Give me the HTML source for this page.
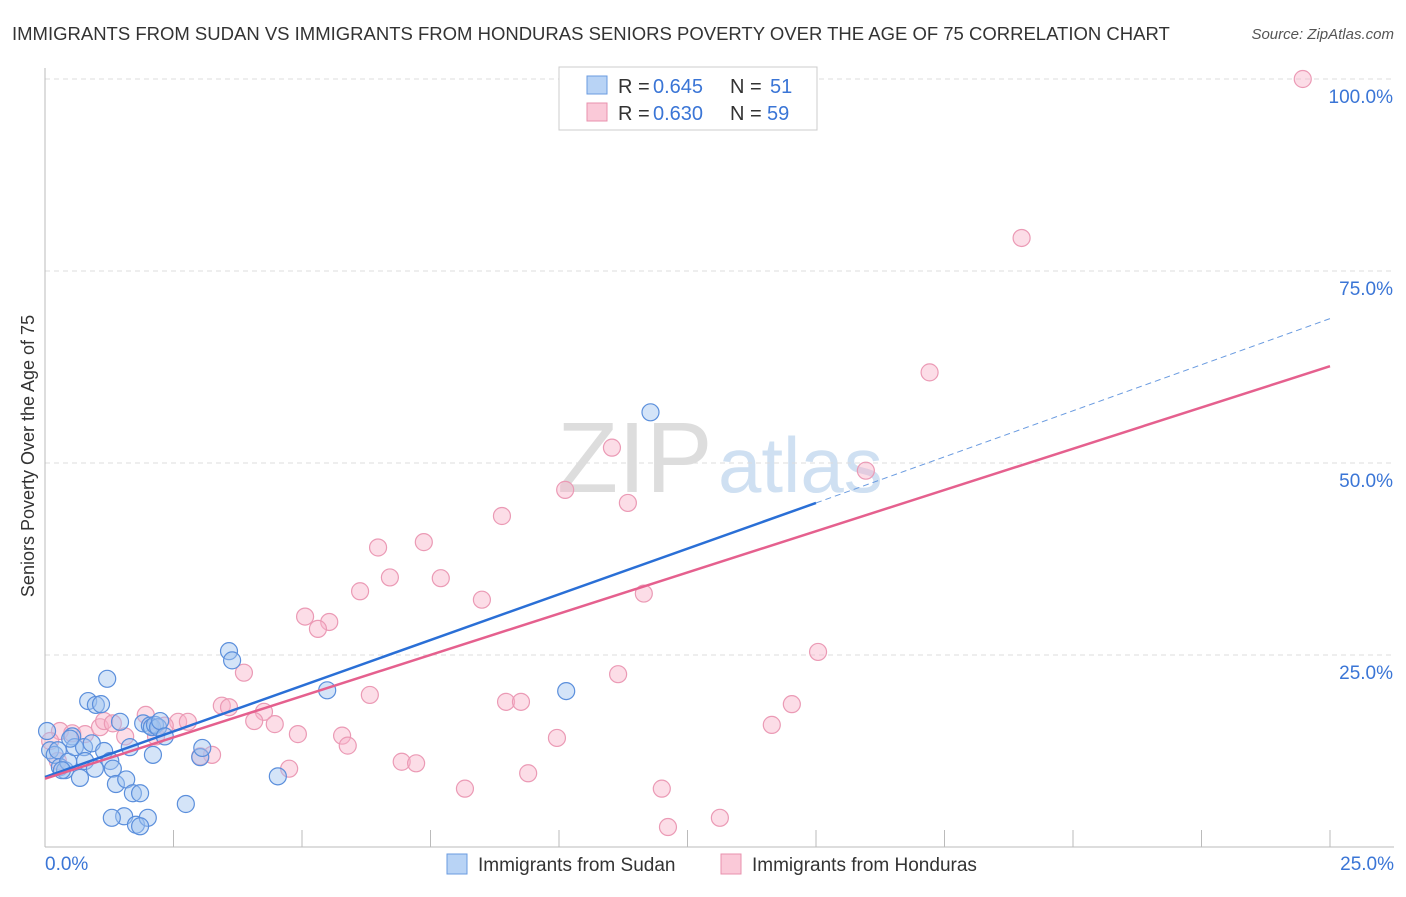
<!DOCTYPE html>
<html><head><meta charset="utf-8"><style>
body{margin:0;background:#fff;font-family:"Liberation Sans",sans-serif}
svg text{font-family:"Liberation Sans",sans-serif}
</style></head><body>
<svg width="1406" height="892" id="c">
<text x="12" y="40" font-size="18.5" fill="#333">IMMIGRANTS FROM SUDAN VS IMMIGRANTS FROM HONDURAS SENIORS POVERTY OVER THE AGE OF 75 CORRELATION CHART</text>
<text x="1394" y="39" font-size="15" fill="#555" font-style="italic" text-anchor="end">Source: ZipAtlas.com</text>
<text x="34" y="456" font-size="18" fill="#333" text-anchor="middle" transform="rotate(-90 34 456)">Seniors Poverty Over the Age of 75</text>
<text x="557" y="492" font-size="100" fill="#ddd" font-family="Liberation Serif">ZIP</text>
<text x="718" y="492" font-size="78" fill="#cfe0f2">atlas</text>
<g id="grid"></g><g id="pts"></g><g id="lines"></g>
<g>
<rect x="559" y="67" width="258" height="63" fill="#fff" stroke="#ccc"/>
<rect x="587" y="76" width="20" height="18" fill="#b8d3f5" stroke="#6a9be0"/>
<rect x="587" y="103" width="20" height="18" fill="#fac9d8" stroke="#e891ae"/>
<text x="618" y="93" font-size="20" fill="#333">R =</text><text x="653" y="93" font-size="20" fill="#3a75d6">0.645</text>
<text x="730" y="93" font-size="20" fill="#333">N =</text><text x="770" y="93" font-size="20" fill="#3a75d6">51</text>
<text x="618" y="120" font-size="20" fill="#333">R =</text><text x="653" y="120" font-size="20" fill="#3a75d6">0.630</text>
<text x="730" y="120" font-size="20" fill="#333">N =</text><text x="767" y="120" font-size="20" fill="#3a75d6">59</text>
</g>
<g>
<rect x="447" y="854" width="20" height="20" fill="#b8d3f5" stroke="#6a9be0"/>
<text x="478" y="871" font-size="19" fill="#333">Immigrants from Sudan</text>
<rect x="721" y="854" width="20" height="20" fill="#fac9d8" stroke="#e891ae"/>
<text x="752" y="871" font-size="19" fill="#333">Immigrants from Honduras</text>
</g>
</svg>
<script>
const xTicks=["0.0%","25.0%"];
const yTicks=[25,50,75,100];
const sudanX=[0.04,0.1,0.19,0.25,0.29,0.39,0.45,0.53,0.58,0.68,0.76,0.84,0.91,0.99,1.09,1.15,1.21,1.27,1.32,1.38,1.46,1.54,1.58,1.65,1.71,1.77,1.85,1.91,2.0,2.04,2.08,2.14,2.2,2.24,2.33,2.1,2.74,3.02,3.06,3.58,3.64,4.53,5.49,10.14,11.78,0.33,0.49,0.78,0.97,1.3,1.85];
const sudanY=[15.1,12.6,12.0,12.6,10.4,10.0,11.1,14.4,13.0,9.0,13.0,19.0,13.5,18.5,18.6,12.5,21.9,11.2,10.2,8.2,16.3,4.0,8.8,13.0,7.0,2.9,7.0,16.1,3.8,15.8,15.6,15.9,15.6,16.4,14.4,12.0,5.6,11.7,12.9,25.5,24.3,9.2,20.4,20.3,56.6,10.0,14.1,11.2,10.2,3.8,2.7];
const hondX=[24.47,19.0,17.21,15.97,11.03,10.12,11.34,8.89,7.37,6.48,6.71,7.7,6.13,8.5,5.06,5.53,5.31,11.65,3.87,15.04,11.15,6.32,8.97,9.26,14.53,3.44,3.58,4.26,1.96,4.47,4.07,4.92,5.78,5.89,2.59,2.78,9.96,14.14,3.25,3.02,4.75,6.94,7.22,9.4,8.17,12.0,12.12,13.13,0.29,0.53,0.78,1.07,1.15,1.32,1.56,2.16,2.33,0.1,0.25];
const hondY=[100,79.3,61.8,49.0,52.0,46.5,44.8,43.1,39.7,39.0,35.1,35.0,33.3,32.2,30.0,29.3,28.4,33.0,22.7,25.4,22.5,19.8,18.9,18.9,18.6,18.4,18.2,17.6,17.2,16.0,16.4,14.7,14.5,13.2,16.3,16.3,14.2,15.9,12.0,11.8,10.2,11.1,10.9,9.6,7.6,7.6,2.6,3.8,15.1,14.8,14.7,15.6,16.4,16.1,14.4,14.4,15.8,13.8,11.2];
const X=v=>45+v/25*1285, Y=v=>847-v*7.68;
const NS="http://www.w3.org/2000/svg";
function mk(t,a,p){const e=document.createElementNS(NS,t);for(const k in a)e.setAttribute(k,a[k]);p.appendChild(e);return e;}
const g=document.getElementById('grid');
yTicks.forEach(v=>{
 const l=mk('line',{x1:45,x2:1394,y1:Y(v),y2:Y(v),stroke:'#ddd','stroke-dasharray':'5,4'},g);
 
 
 const t=mk('text',{x:1393,y:Y(v)+24,'font-size':19,fill:'#3a75d6','text-anchor':'end'},g);
 t.textContent=v.toFixed(1)+'%';
 
 
});
mk('line',{x1:45,x2:45,y1:68,y2:847,stroke:'#bbb'},g);
mk('line',{x1:45,x2:1394,y1:847,y2:847,stroke:'#bbb'},g);
for(let i=0;i<=10;i++){mk('line',{x1:X(i*2.5),x2:X(i*2.5),y1:830,y2:847,stroke:'#bbb'},g);}
xTicks.forEach((s,i)=>{const t=mk('text',{x:i?1394:45,y:870,'font-size':19,fill:'#3a75d6','text-anchor':i?'end':'start'},g);t.textContent=s;
 
 });
const p=document.getElementById('pts');
hondX.forEach((x,i)=>{const c=mk('circle',{cx:X(x),cy:Y(hondY[i]),r:8.5,fill:'rgba(248,180,202,0.45)',stroke:'#eb9ab5','stroke-width':1.2},p);
 
 });
sudanX.forEach((x,i)=>{const c=mk('circle',{cx:X(x),cy:Y(sudanY[i]),r:8.5,fill:'rgba(160,195,240,0.45)',stroke:'#5b8fdc','stroke-width':1.2},p);
 
 });
const L=document.getElementById('lines');
let a=mk('line',{x1:X(0),y1:Y(9.1),x2:X(15),y2:Y(44.8),stroke:'#2a6fd6','stroke-width':2.5},L);


a=mk('line',{x1:X(15),y1:Y(44.8),x2:X(25),y2:Y(68.8),stroke:'#6a9be0','stroke-width':1,'stroke-dasharray':'6,4'},L);


a=mk('line',{x1:X(0),y1:Y(8.9),x2:X(25),y2:Y(62.6),stroke:'#e5608e','stroke-width':2.5},L);


</script>
</body></html>
